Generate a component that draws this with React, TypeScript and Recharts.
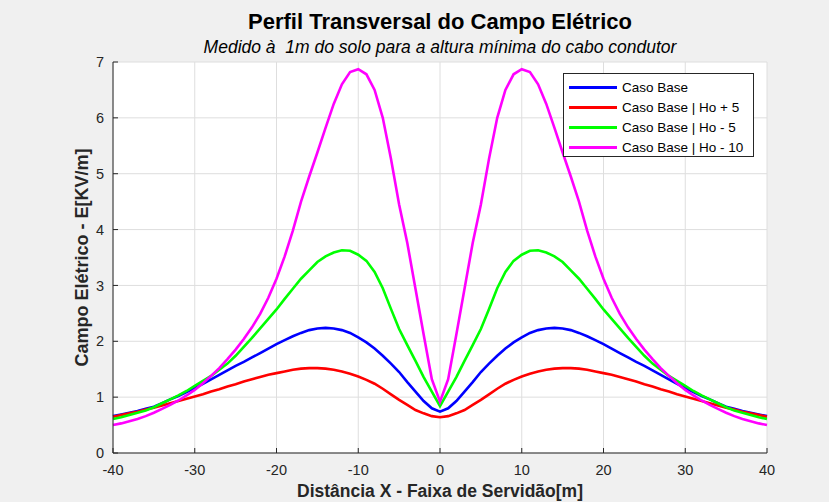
import { LineChart, Line, XAxis, YAxis, CartesianGrid, Legend } from 'recharts'

// distância ao eixo da linha [m]
const distancias = [
  -40, -39, -38, -37, -36, -35, -34, -33, -32, -31, -30, -29, -28, -27, -26, -25, -24, -23, -22, -21,
  -20, -19, -18, -17, -16, -15, -14, -13, -12, -11, -10, -9, -8, -7, -6, -5, -4, -3, -2, -1,
  0,
  1, 2, 3, 4, 5, 6, 7, 8, 9, 10, 11, 12, 13, 14, 15, 16, 17, 18, 19, 20,
  21, 22, 23, 24, 25, 26, 27, 28, 29, 30, 31, 32, 33, 34, 35, 36, 37, 38, 39, 40,
]

// Caso Base - azul
const casoBase = [
  0.66, 0.69, 0.72, 0.75, 0.79, 0.83, 0.89, 0.96, 1.02, 1.09, 1.16, 1.24, 1.32, 1.40, 1.48, 1.56, 1.63, 1.71, 1.79, 1.87,
  1.95, 2.02, 2.09, 2.15, 2.20, 2.23, 2.24, 2.23, 2.20, 2.15, 2.07, 1.98, 1.87, 1.74, 1.60, 1.45, 1.27, 1.10, 0.93, 0.80,
  0.74,
  0.80, 0.93, 1.10, 1.27, 1.45, 1.60, 1.74, 1.87, 1.98, 2.07, 2.15, 2.20, 2.23, 2.24, 2.23, 2.20, 2.15, 2.09, 2.02, 1.95,
  1.87, 1.79, 1.71, 1.63, 1.56, 1.48, 1.40, 1.32, 1.24, 1.16, 1.09, 1.02, 0.96, 0.89, 0.83, 0.79, 0.75, 0.72, 0.69, 0.66,
]

// Ho + 5 - vermelho
const hoMais5 = [
  0.65, 0.68, 0.71, 0.74, 0.78, 0.81, 0.85, 0.89, 0.93, 0.97, 1.01, 1.05, 1.10, 1.14, 1.19, 1.23, 1.28, 1.32, 1.36, 1.40,
  1.43, 1.46, 1.49, 1.51, 1.52, 1.52, 1.51, 1.49, 1.46, 1.42, 1.37, 1.31, 1.24, 1.15, 1.05, 0.95, 0.86, 0.77, 0.71, 0.66,
  0.64,
  0.66, 0.71, 0.77, 0.86, 0.95, 1.05, 1.15, 1.24, 1.31, 1.37, 1.42, 1.46, 1.49, 1.51, 1.52, 1.52, 1.51, 1.49, 1.46, 1.43,
  1.40, 1.36, 1.32, 1.28, 1.23, 1.19, 1.14, 1.10, 1.05, 1.01, 0.97, 0.93, 0.89, 0.85, 0.81, 0.78, 0.74, 0.71, 0.68, 0.65,
]

// Ho - 5 - verde
const hoMenos5 = [
  0.61, 0.64, 0.68, 0.72, 0.76, 0.82, 0.89, 0.96, 1.03, 1.11, 1.20, 1.29, 1.38, 1.49, 1.60, 1.74, 1.90, 2.06, 2.23, 2.40,
  2.57, 2.76, 2.94, 3.12, 3.27, 3.42, 3.52, 3.59, 3.63, 3.62, 3.55, 3.44, 3.24, 2.95, 2.58, 2.22, 1.93, 1.65, 1.36, 1.10,
  0.84,
  1.10, 1.36, 1.65, 1.93, 2.22, 2.58, 2.95, 3.24, 3.44, 3.55, 3.62, 3.63, 3.59, 3.52, 3.42, 3.27, 3.12, 2.94, 2.76, 2.57,
  2.40, 2.23, 2.06, 1.90, 1.74, 1.60, 1.49, 1.38, 1.29, 1.20, 1.11, 1.03, 0.96, 0.89, 0.82, 0.76, 0.72, 0.68, 0.64, 0.61,
]

// Ho - 10 - magenta
const hoMenos10 = [
  0.50, 0.53, 0.57, 0.61, 0.66, 0.72, 0.79, 0.86, 0.94, 1.03, 1.13, 1.25, 1.38, 1.52, 1.68, 1.85, 2.04, 2.25, 2.49, 2.78,
  3.12, 3.52, 3.98, 4.50, 4.95, 5.38, 5.82, 6.25, 6.60, 6.82, 6.87, 6.78, 6.50, 6.00, 5.27, 4.45, 3.76, 2.94, 2.12, 1.32,
  0.92,
  1.32, 2.12, 2.94, 3.76, 4.45, 5.27, 6.00, 6.50, 6.78, 6.87, 6.82, 6.60, 6.25, 5.82, 5.38, 4.95, 4.50, 3.98, 3.52, 3.12,
  2.78, 2.49, 2.25, 2.04, 1.85, 1.68, 1.52, 1.38, 1.25, 1.13, 1.03, 0.94, 0.86, 0.79, 0.72, 0.66, 0.61, 0.57, 0.53, 0.50,
]

const xTicks = [-40, -30, -20, -10, 0, 10, 20, 30, 40]
const yTicks = [0, 1, 2, 3, 4, 5, 6, 7]

const series = [
  { key: 'base', name: 'Caso Base', color: '#0000ff', values: casoBase },
  { key: 'mais5', name: 'Caso Base | Ho + 5', color: '#ff0000', values: hoMais5 },
  { key: 'menos5', name: 'Caso Base | Ho - 5', color: '#00ff00', values: hoMenos5 },
  { key: 'menos10', name: 'Caso Base | Ho - 10', color: '#ff00ff', values: hoMenos10 },
]

const data = distancias.map((x, i) => {
  const row: Record<string, number> = { x }
  series.forEach((s) => {
    row[s.key] = s.values[i]
  })
  return row
})

const FONT = '"Liberation Sans", Arial, Helvetica, sans-serif'

function LegendBox() {
  return (
    <div
      style={{
        background: '#fff',
        border: '1px solid #262626',
        width: 191,
        height: 84,
        boxSizing: 'border-box',
        paddingTop: 3,
        fontFamily: FONT,
        fontSize: 13.5,
        color: '#000',
      }}
    >
      {series.map((s) => (
        <div key={s.key} style={{ display: 'flex', alignItems: 'center', height: 20 }}>
          <div style={{ width: 48, height: 3, background: s.color, marginLeft: 5, marginRight: 5 }} />
          <span style={{ whiteSpace: 'nowrap' }}>{s.name}</span>
        </div>
      ))}
    </div>
  )
}

export default function App() {
  return (
    <div
      style={{
        position: 'absolute',
        left: 0,
        top: 0,
        width: 829,
        height: 502,
        background: '#f0f0f0',
        fontFamily: FONT,
      }}
    >
      <div
        style={{
          position: 'absolute',
          left: 113,
          width: 654,
          top: 9,
          textAlign: 'center',
          fontSize: 22,
          fontWeight: 'bold',
          color: '#000',
        }}
      >
        Perfil Transversal do Campo Elétrico
      </div>
      <div
        style={{
          position: 'absolute',
          left: 113,
          width: 654,
          top: 37,
          textAlign: 'center',
          fontSize: 17.5,
          fontStyle: 'italic',
          color: '#000',
        }}
      >
        Medido à&nbsp; 1m do solo para a altura mínima do cabo condutor
      </div>
      <LineChart
        width={829}
        height={502}
        data={data}
        margin={{ top: 62, right: 62, bottom: 0, left: 0 }}
        style={{ position: 'absolute', left: 0, top: 0 }}
      >
        <CartesianGrid stroke="#dedede" fill="#ffffff" vertical horizontal />
        <XAxis
          dataKey="x"
          type="number"
          domain={[-40, 40]}
          ticks={xTicks}
          height={49}
          interval={0}
          tickSize={-5}
          tickMargin={17}
          axisLine={{ stroke: '#262626' }}
          tickLine={{ stroke: '#262626' }}
          tick={{ fill: '#262626', fontSize: 14.5, fontFamily: FONT }}
          label={{
            value: 'Distância X - Faixa de Servidão[m]',
            position: 'insideBottom',
            offset: 5,
            fill: '#262626',
            fontSize: 17.5,
            fontWeight: 'bold',
            fontFamily: FONT,
          }}
        />
        <YAxis
          type="number"
          domain={[0, 7]}
          ticks={yTicks}
          width={113}
          interval={0}
          tickSize={-5}
          tickMargin={14}
          axisLine={{ stroke: '#262626' }}
          tickLine={{ stroke: '#262626' }}
          tick={{ fill: '#262626', fontSize: 14.5, fontFamily: FONT }}
          label={{
            value: 'Campo Elétrico - E[KV/m]',
            angle: -90,
            position: 'center',
            dx: 25,
            fill: '#262626',
            fontSize: 18,
            fontWeight: 'bold',
            fontFamily: FONT,
          }}
        />
        <Legend
          layout="vertical"
          align="center"
          verticalAlign="middle"
          content={() => <LegendBox />}
          wrapperStyle={{ left: 563, top: 73, width: 191 }}
        />
        {series.map((s) => (
          <Line
            key={s.key}
            type="linear"
            dataKey={s.key}
            name={s.name}
            stroke={s.color}
            strokeWidth={2.6}
            dot={false}
            isAnimationActive={false}
          />
        ))}
      </LineChart>
    </div>
  )
}
